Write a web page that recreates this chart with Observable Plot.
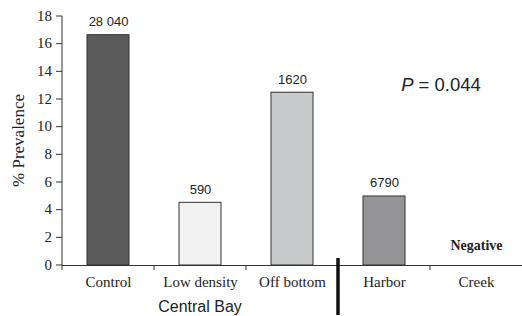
<!DOCTYPE html>
<html>
<head>
<meta charset="utf-8">
<script src="https://cdn.jsdelivr.net/npm/d3@7"></script>
<script src="https://cdn.jsdelivr.net/npm/@observablehq/plot@0.6"></script>
<style>
  html, body { margin: 0; padding: 0; background: #fff; }
  #chart { position: relative; width: 522px; height: 316px; }
</style>
</head>
<body>
<div id="chart"></div>
<script>
const categories = ["Control", "Low density", "Off bottom", "Harbor", "Creek"];
const prevalence = [16.65, 4.53, 12.49, 4.99, null];
const sampleLabels = ["28 040", "590", "1620", "6790", null];
const fills = ["#5b5b5b", "#f2f2f2", "#c8c9ca", "#959597", "#ffffff"];
const yTicks = [0, 2, 4, 6, 8, 10, 12, 14, 16, 18];
const groupLabel = "Central Bay";
const groupCategory = "Low density";
const separatorAfter = "Off bottom";
const negativeCategory = "Creek";
const negativeLabel = "Negative";
const pLabel = "0.044";

const serif = "Liberation Serif, Times New Roman, serif";
const sans = "Liberation Sans, Arial, sans-serif";

const data = categories.map((c, i) => ({cat: c, v: prevalence[i], label: sampleLabels[i], fill: fills[i]}));
const bars = data.filter(d => d.v != null);

const chart = Plot.plot({
  width: 522,
  height: 316,
  marginLeft: 62,
  marginRight: 0,
  marginTop: 16,
  marginBottom: 51,
  style: {background: "#fff", overflow: "visible", fontFamily: serif, fontSize: "15px", color: "#222"},
  x: {domain: categories, paddingInner: 0.545, paddingOuter: 0.2725, align: 0.5, label: null, axis: null},
  y: {domain: [0, 18], label: null, axis: null},
  marks: [
    Plot.barY(bars, {x: "cat", y: "v", fill: "fill", stroke: "#333", strokeWidth: 1}),
    Plot.text(bars, {x: "cat", y: "v", text: "label", dy: -9, lineAnchor: "bottom",
      fontFamily: sans, fontSize: 13, fill: "#222"}),
    Plot.text([negativeCategory], {x: d => d, y: d => 0, text: [negativeLabel], dy: -20,
      fontFamily: serif, fontWeight: "bold", fontSize: 14, fill: "#222"}),
    Plot.text(categories, {x: d => d, y: d => 0, text: d => d, dy: 17, lineAnchor: "middle",
      fontFamily: serif, fontSize: 15, fill: "#222"}),
    Plot.ruleY([0], {stroke: "#333", strokeWidth: 1}),
    (index, scales, values, dimensions) => {
      const x = scales.x, y = scales.y;
      const step = x.step(), bw = x.bandwidth();
      const g = d3.create("svg:g");
      const y0 = y(0);
      const ml = dimensions.marginLeft;
      const boundary = c => x(c) + bw / 2 - step / 2;
      g.append("line").attr("x1", ml).attr("x2", ml)
        .attr("y1", y(18)).attr("y2", y0).attr("stroke", "#333");
      yTicks.forEach(t => {
        g.append("line").attr("x1", ml - 6).attr("x2", ml).attr("y1", y(t)).attr("y2", y(t)).attr("stroke", "#333");
        g.append("text").attr("x", ml - 10).attr("y", y(t)).attr("dy", "0.32em")
          .attr("text-anchor", "end").attr("font-family", serif).attr("font-size", 15)
          .attr("fill", "#222").text(String(t));
      });
      categories.forEach(c => {
        const bx = boundary(c);
        g.append("line").attr("x1", bx).attr("x2", bx).attr("y1", y0).attr("y2", y0 + 5).attr("stroke", "#333");
      });
      const sepIdx = categories.indexOf(separatorAfter) + 1;
      const sx = boundary(categories[sepIdx]);
      g.append("line").attr("x1", sx).attr("x2", sx).attr("y1", y0 - 7).attr("y2", y0 + 50)
        .attr("stroke", "#111").attr("stroke-width", 3.5);
      g.append("text").attr("x", x(groupCategory) + bw / 2).attr("y", y0 + 47)
        .attr("text-anchor", "middle").attr("font-family", sans)
        .attr("font-size", 16).attr("fill", "#222").text(groupLabel);
      const pt = g.append("text").attr("x", 441).attr("y", y(12.55)).attr("text-anchor", "middle")
        .attr("font-family", sans).attr("font-size", 18.5).attr("fill", "#222");
      pt.append("tspan").attr("font-style", "italic").text("P");
      pt.append("tspan").text(" = " + pLabel);
      g.append("text").attr("transform", `translate(24,${(y(18) + y0) / 2}) rotate(-90)`)
        .attr("text-anchor", "middle").attr("font-family", serif)
        .attr("font-size", 17).attr("fill", "#222").text("% Prevalence");
      return g.node();
    }
  ]
});
document.getElementById("chart").appendChild(chart);
</script>
</body>
</html>
